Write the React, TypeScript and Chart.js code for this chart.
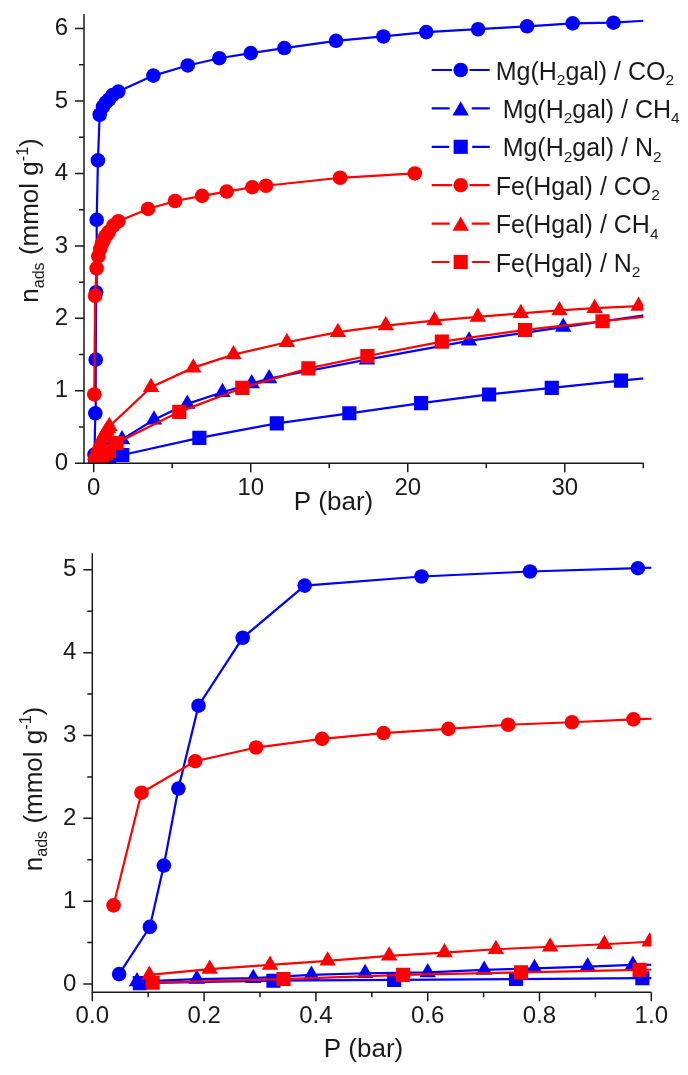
import { useEffect, useRef } from 'react';
import { Chart, registerables } from 'chart.js';
Chart.register(...registerables);

const FONT = '"Liberation Sans", Arial, Helvetica, sans-serif';
const BLUE = '#0000ff';
const RED = '#ff0000';
const INK = '#1a1a1a';

// ---- data (P in bar, n_ads in mmol/g) ----
const mgCO2_P = [0.048, 0.103, 0.128, 0.154, 0.19, 0.269, 0.38, 0.589, 0.783, 0.976, 1.2, 1.57, 3.8, 5.99, 8.0, 10.0, 12.14, 15.43, 18.45, 21.18, 24.48, 27.6, 30.5, 33.1, 36.0];
const mgCO2_N = [0.12, 0.69, 1.43, 2.36, 3.36, 4.18, 4.81, 4.92, 4.98, 5.02, 5.08, 5.13, 5.35, 5.49, 5.59, 5.66, 5.73, 5.83, 5.89, 5.95, 5.99, 6.03, 6.07, 6.08, 6.12];

const mgCH4_P = [0.08, 0.187, 0.288, 0.392, 0.488, 0.6, 0.701, 0.791, 0.886, 0.967, 1.8, 3.84, 5.96, 8.2, 10.06, 11.17, 17.4, 23.9, 29.9, 35.9];
const mgCH4_N = [0.03, 0.06, 0.07, 0.11, 0.13, 0.14, 0.17, 0.19, 0.21, 0.23, 0.33, 0.6, 0.82, 0.98, 1.1, 1.17, 1.43, 1.69, 1.88, 2.07];

const mgN2_P = [0.085, 0.324, 0.54, 0.758, 0.984, 1.82, 6.73, 11.66, 16.28, 20.85, 25.18, 29.17, 33.58, 37.6];
const mgN2_N = [0.01, 0.04, 0.05, 0.06, 0.07, 0.115, 0.35, 0.55, 0.69, 0.83, 0.95, 1.04, 1.14, 1.23];

const feCO2_P = [0.038, 0.088, 0.184, 0.293, 0.411, 0.521, 0.637, 0.744, 0.858, 0.968, 1.25, 1.57, 3.46, 5.18, 6.9, 8.47, 10.1, 10.97, 15.69, 20.45];
const feCO2_N = [0.95, 2.31, 2.69, 2.855, 2.96, 3.03, 3.08, 3.13, 3.16, 3.195, 3.28, 3.34, 3.51, 3.62, 3.69, 3.75, 3.81, 3.83, 3.94, 4.0];

const feCH4_P = [0.102, 0.21, 0.318, 0.421, 0.531, 0.63, 0.722, 0.819, 0.916, 0.997, 3.65, 6.34, 8.9, 12.3, 15.55, 18.6, 21.7, 24.46, 27.2, 29.66, 31.9, 34.7];
const feCH4_N = [0.11, 0.18, 0.23, 0.28, 0.34, 0.38, 0.42, 0.45, 0.48, 0.51, 1.05, 1.32, 1.5, 1.67, 1.81, 1.9, 1.97, 2.02, 2.07, 2.11, 2.14, 2.17];

const feN2_P = [0.108, 0.342, 0.556, 0.767, 0.979, 1.46, 5.45, 9.46, 13.67, 17.43, 22.17, 27.47, 32.4, 37.2];
const feN2_N = [0.015, 0.06, 0.11, 0.14, 0.17, 0.28, 0.71, 1.04, 1.31, 1.48, 1.68, 1.84, 1.96, 2.07];

// legend labels ('_x' = subscript x)
const LEGEND_LABELS = ['Mg(H_2gal) / CO_2', ' Mg(H_2gal) / CH_4', ' Mg(H_2gal) / N_2', 'Fe(Hgal) / CO_2', 'Fe(Hgal) / CH_4', 'Fe(Hgal) / N_2'];

// tick values
const TOP_X_TICKS = [0, 10, 20, 30];
const TOP_X_MINOR = [5, 15, 25, 35];
const TOP_Y_TICKS = [0, 1, 2, 3, 4, 5, 6];
const TOP_Y_MINOR = [0.5, 1.5, 2.5, 3.5, 4.5, 5.5];
const BOT_X_TICKS = [0, 0.2, 0.4, 0.6, 0.8, 1.0];
const BOT_X_MINOR = [0.1, 0.3, 0.5, 0.7, 0.9];
const BOT_Y_TICKS = [0, 1, 2, 3, 4, 5];
const BOT_Y_MINOR = [0.5, 1.5, 2.5, 3.5, 4.5];

type Shape = 'circle' | 'triangle' | 'rect';
const SERIES: { P: number[]; N: number[]; color: string; shape: Shape; order: number }[] = [
  { P: mgCO2_P, N: mgCO2_N, color: BLUE, shape: 'circle', order: 2 },
  { P: mgCH4_P, N: mgCH4_N, color: BLUE, shape: 'triangle', order: 2 },
  { P: mgN2_P, N: mgN2_N, color: BLUE, shape: 'rect', order: 2 },
  { P: feCO2_P, N: feCO2_N, color: RED, shape: 'circle', order: 1 },
  { P: feCH4_P, N: feCH4_N, color: RED, shape: 'triangle', order: 1 },
  { P: feN2_P, N: feN2_N, color: RED, shape: 'rect', order: 1 },
];
const RADIUS: Record<Shape, number> = { circle: 7.3, triangle: 9.5, rect: 10 };

type Part = { t: string; sub?: boolean; sup?: boolean };
function parseMarkup(s: string): Part[] {
  const parts: Part[] = [];
  let buf = '';
  for (let i = 0; i < s.length; i++) {
    if (s[i] === '_' && i + 1 < s.length) {
      if (buf) parts.push({ t: buf });
      buf = '';
      parts.push({ t: s[i + 1], sub: true });
      i++;
    } else buf += s[i];
  }
  if (buf) parts.push({ t: buf });
  return parts;
}
function richWidth(ctx: CanvasRenderingContext2D, parts: Part[], size: number) {
  let w = 0;
  for (const p of parts) {
    const s = p.sub || p.sup ? size * 0.62 : size;
    ctx.font = `${s}px ${FONT}`;
    w += ctx.measureText(p.t).width;
  }
  return w;
}
function drawRich(ctx: CanvasRenderingContext2D, parts: Part[], x: number, y: number, size: number) {
  let cx = x;
  ctx.textBaseline = 'alphabetic';
  ctx.textAlign = 'left';
  for (const p of parts) {
    const s = p.sub || p.sup ? size * 0.62 : size;
    ctx.font = `${s}px ${FONT}`;
    const dy = p.sub ? size * 0.22 : p.sup ? -size * 0.4 : 0;
    ctx.fillText(p.t, cx, y + dy);
    cx += ctx.measureText(p.t).width;
  }
}
function drawMarker(ctx: CanvasRenderingContext2D, shape: Shape, x: number, y: number, r: number) {
  ctx.beginPath();
  if (shape === 'circle') ctx.arc(x, y, r, 0, Math.PI * 2);
  else if (shape === 'triangle') {
    const a = (2 * Math.PI) / 3;
    const cy = y + r / 4;
    ctx.moveTo(x, cy - r);
    ctx.lineTo(x + r * Math.sin(a), cy - r * Math.cos(a));
    ctx.lineTo(x - r * Math.sin(a), cy - r * Math.cos(a));
  } else {
    const h = r * Math.SQRT1_2;
    ctx.rect(x - h, y - h, 2 * h, 2 * h);
  }
  ctx.closePath();
  ctx.fill();
}

const Y_TITLE: Part[] = [{ t: 'n' }, { t: 'ads', sub: true }, { t: ' (mmol g' }, { t: '-1', sup: true }, { t: ')' }];
const X_TITLE: Part[] = [{ t: 'P (bar)' }];

type Spec = {
  h: number; xMin: number; xMax: number; yMin: number; yMax: number;
  xTicks: number[]; xMinor: number[]; yTicks: number[]; yMinor: number[];
  yWidth: number; padRight: number; padTop: number; xHeight: number; xPad: number;
  xFmt: (v: number) => string; xTitle: { cx: number; base: number }; yTitle: { bx: number; cy: number };
  legend: boolean;
};

const TOP: Spec = {
  h: 530, xMin: -0.618, xMax: 35, yMin: 0, yMax: 6.2,
  xTicks: TOP_X_TICKS, xMinor: TOP_X_MINOR, yTicks: TOP_Y_TICKS, yMinor: TOP_Y_MINOR,
  yWidth: 84, padRight: 44.7, padTop: 14, xHeight: 66.7, xPad: 11,
  xFmt: (v) => String(v), xTitle: { cx: 333.5, base: 510 }, yTitle: { bx: 38.3, cy: 220.5 }, legend: true,
};
const BOT: Spec = {
  h: 540, xMin: 0, xMax: 1, yMin: -0.1, yMax: 5.2,
  xTicks: BOT_X_TICKS, xMinor: BOT_X_MINOR, yTicks: BOT_Y_TICKS, yMinor: BOT_Y_MINOR,
  yWidth: 92.3, padRight: 36.7, padTop: 18.3, xHeight: 82.7, xPad: 10,
  xFmt: (v) => v.toFixed(1), xTitle: { cx: 363.5, base: 521.7 }, yTitle: { bx: 41.7, cy: 254 }, legend: false,
};

function decorPlugin(spec: Spec) {
  return {
    id: 'decor',
    afterDraw(chart: any) {
      const ctx: CanvasRenderingContext2D = chart.ctx;
      const a = chart.chartArea;
      const xs = chart.scales.x;
      const ys = chart.scales.y;
      ctx.save();
      ctx.strokeStyle = INK;
      ctx.lineWidth = 1.5;
      ctx.beginPath();
      ctx.moveTo(a.left, a.top);
      ctx.lineTo(a.left, a.bottom);
      ctx.lineTo(a.right, a.bottom);
      ctx.stroke();
      ctx.beginPath();
      const xt = (v: number, len: number) => {
        const p = xs.getPixelForValue(v);
        ctx.moveTo(p, a.bottom);
        ctx.lineTo(p, a.bottom + len);
      };
      const yt = (v: number, len: number) => {
        const p = ys.getPixelForValue(v);
        ctx.moveTo(a.left, p);
        ctx.lineTo(a.left - len, p);
      };
      spec.xTicks.forEach((v) => xt(v, 9));
      spec.xMinor.forEach((v) => xt(v, 5));
      spec.yTicks.forEach((v) => yt(v, 9));
      spec.yMinor.forEach((v) => yt(v, 5));
      ctx.stroke();

      ctx.fillStyle = INK;
      // x title
      const xw = richWidth(ctx, X_TITLE, 26);
      drawRich(ctx, X_TITLE, spec.xTitle.cx - xw / 2, spec.xTitle.base, 26);
      // y title
      const yw = richWidth(ctx, Y_TITLE, 26);
      ctx.save();
      ctx.translate(spec.yTitle.bx, spec.yTitle.cy);
      ctx.rotate(-Math.PI / 2);
      drawRich(ctx, Y_TITLE, -yw / 2, 0, 26);
      ctx.restore();

      if (spec.legend) {
        LEGEND_LABELS.forEach((lab, i) => {
          const s = SERIES[i];
          const cy = 70 + i * 38.4;
          const mx = 460.7;
          const r = RADIUS[s.shape];
          ctx.strokeStyle = s.color;
          ctx.fillStyle = s.color;
          ctx.lineWidth = 2.2;
          ctx.beginPath();
          ctx.moveTo(431.7, cy);
          ctx.lineTo(mx - r - 1.5, cy);
          ctx.moveTo(mx + r + 1.5, cy);
          ctx.lineTo(489.7, cy);
          ctx.stroke();
          drawMarker(ctx, s.shape, mx, cy, r);
          ctx.fillStyle = INK;
          drawRich(ctx, parseMarkup(lab), 495.7, cy + 9.5, 25);
        });
      }
      ctx.restore();
    },
  };
}

function buildConfig(spec: Spec): any {
  const datasets = SERIES.map((s, i) => ({
    label: LEGEND_LABELS[i].replace(/_/g, ''),
    data: s.P.map((x, j) => ({ x, y: s.N[j] })),
    showLine: true,
    borderColor: s.color,
    backgroundColor: s.color,
    borderWidth: 2.2,
    pointStyle: s.shape,
    pointRadius: RADIUS[s.shape],
    pointHoverRadius: RADIUS[s.shape],
    pointBorderWidth: 0,
    pointBackgroundColor: s.color,
    tension: 0,
    clip: 0,
    order: s.order,
  }));
  const tickFont = { family: FONT, size: 24 };
  return {
    type: 'scatter',
    data: { datasets },
    options: {
      responsive: false,
      animation: false,
      events: [],
      layout: { padding: { left: 0, right: spec.padRight, top: spec.padTop, bottom: 0 } },
      plugins: { legend: { display: false }, tooltip: { enabled: false } },
      scales: {
        x: {
          type: 'linear',
          min: spec.xMin,
          max: spec.xMax,
          grid: { display: false, drawTicks: false },
          border: { display: false },
          afterBuildTicks: (s: any) => { s.ticks = spec.xTicks.map((value) => ({ value })); },
          afterFit: (s: any) => { s.height = spec.xHeight; s.paddingLeft = 0; s.paddingRight = 0; },
          ticks: {
            padding: spec.xPad, font: tickFont, color: INK, maxRotation: 0, autoSkip: false,
            callback: (v: any) => spec.xFmt(Number(v)),
          },
        },
        y: {
          type: 'linear',
          min: spec.yMin,
          max: spec.yMax,
          grid: { display: false, drawTicks: false },
          border: { display: false },
          afterBuildTicks: (s: any) => { s.ticks = spec.yTicks.map((value) => ({ value })); },
          afterFit: (s: any) => { s.width = spec.yWidth; s.paddingTop = 0; s.paddingBottom = 0; },
          ticks: {
            padding: 16, font: tickFont, color: INK, autoSkip: false,
            callback: (v: any) => String(Number(v)),
          },
        },
      },
    },
    plugins: [decorPlugin(spec)],
  };
}

export default function App() {
  const topRef = useRef<HTMLCanvasElement>(null);
  const botRef = useRef<HTMLCanvasElement>(null);
  useEffect(() => {
    document.body.style.margin = '0';
    const c1 = new Chart(topRef.current as HTMLCanvasElement, buildConfig(TOP));
    const c2 = new Chart(botRef.current as HTMLCanvasElement, buildConfig(BOT));
    return () => {
      c1.destroy();
      c2.destroy();
    };
  }, []);
  return (
    <div style={{ position: 'relative', width: 688, height: 1075, background: '#fff' }}>
      <canvas ref={topRef} width={688} height={530} style={{ position: 'absolute', left: 0, top: 0, width: 688, height: 530 }} />
      <canvas ref={botRef} width={688} height={540} style={{ position: 'absolute', left: 0, top: 535, width: 688, height: 540 }} />
    </div>
  );
}
